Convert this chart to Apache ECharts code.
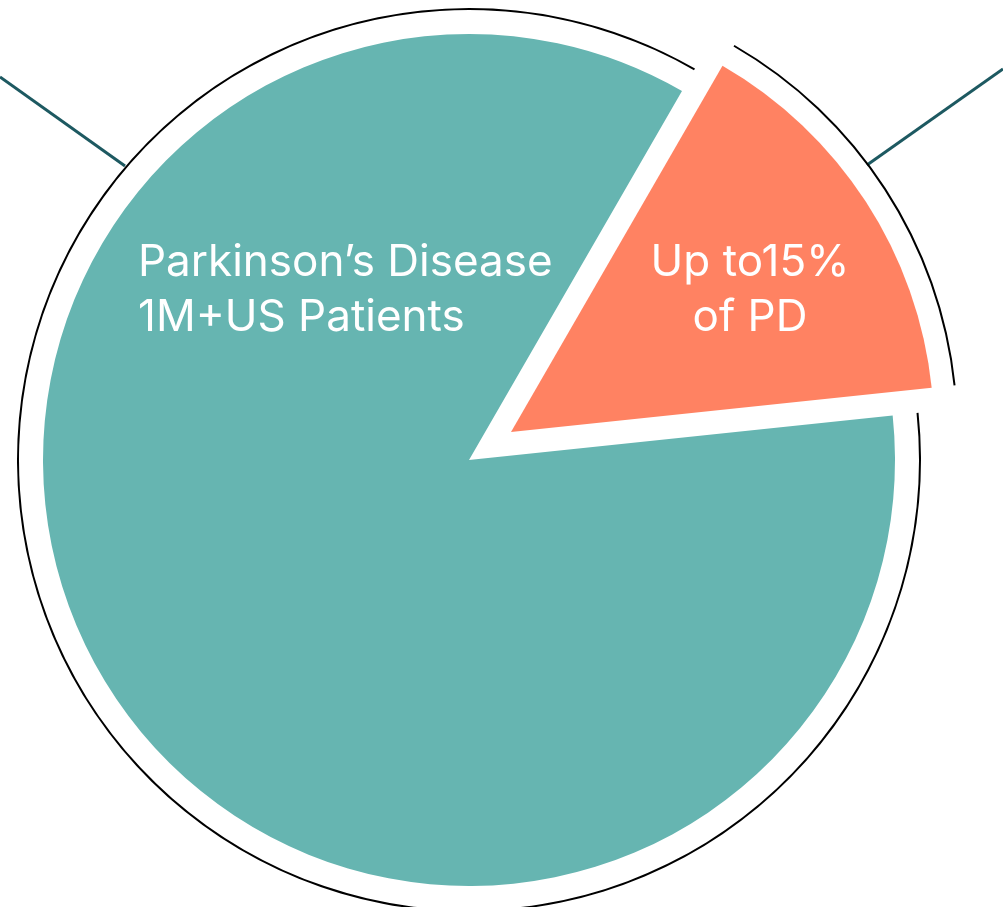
<!DOCTYPE html>
<html>

<head>
    <meta charset="utf-8">
    <title> PD pie </title>
</head>

<body style="margin:0;">
    <div id="main" style="width: 1003px;height:907px;">
    </div>
    <script src="https://cdn.jsdelivr.net/npm/echarts@6/dist/echarts.min.js"></script>
    <script>
        // slices, in clockwise order from startAngle
        var names = ['Up to15%\nof PD', 'Parkinson’s Disease\n1M+US Patients'];
        var values = [15, 85];
        var colors = ['#FF8262', '#66B5B1'];

        // one pie per slice so the small one can sit pulled out from the centre
        function sliceData(keep, color, withLabel) {
            var out = [];
            for (var i = 0; i < names.length; i++) {
                out.push({
                    name: names[i],
                    value: values[i],
                    itemStyle: { color: i === keep ? color : 'rgba(0,0,0,0)' },
                    label: { show: withLabel && i === keep }
                });
            }
            return out;
        }

        var base = {
            type: 'pie',
            startAngle: 60,
            silent: true,
            emphasis: { disabled: true },
            itemStyle: { borderWidth: 0 },
            labelLine: { show: false }
        };

        var labelStyle = {
            position: 'inside',
            color: '#fff',
            fontFamily: 'Inter',
            fontSize: 44,
            lineHeight: 55,
            formatter: '{b}'
        };

        var myChart = echarts.init(document.getElementById('main'));
        var option = {
            backgroundColor: '#fff',
            animation: false,
            graphic: [{
                    type: 'line',
                    shape: { x1: 0, y1: 77, x2: 125, y2: 166 },
                    style: { stroke: '#1d5961', lineWidth: 3 }
                },
                {
                    type: 'line',
                    shape: { x1: 867, y1: 165, x2: 1003, y2: 69 },
                    style: { stroke: '#1d5961', lineWidth: 3 }
                }
            ],
            series: [
                echarts.util.extend({
                    center: [469, 460],
                    radius: [450, 452],
                    label: { show: false },
                    data: sliceData(1, '#000', false)
                }, base),
                echarts.util.extend({
                    center: [511, 432],
                    radius: [445, 447],
                    label: { show: false },
                    data: sliceData(0, '#000', false)
                }, base),
                echarts.util.extend({
                    center: [469, 460],
                    radius: [0, 426],
                    label: labelStyle,
                    labelLayout: function () {
                        return { x: 138, y: 290, align: 'left', verticalAlign: 'middle' };
                    },
                    data: sliceData(1, colors[1], true)
                }, base),
                echarts.util.extend({
                    center: [511, 432],
                    radius: [0, 423],
                    label: labelStyle,
                    labelLayout: function () {
                        return { x: 750, y: 290, align: 'center', verticalAlign: 'middle' };
                    },
                    data: sliceData(0, colors[0], true)
                }, base)
            ]
        };

        myChart.setOption(option);
    </script>
</body>

</html>
